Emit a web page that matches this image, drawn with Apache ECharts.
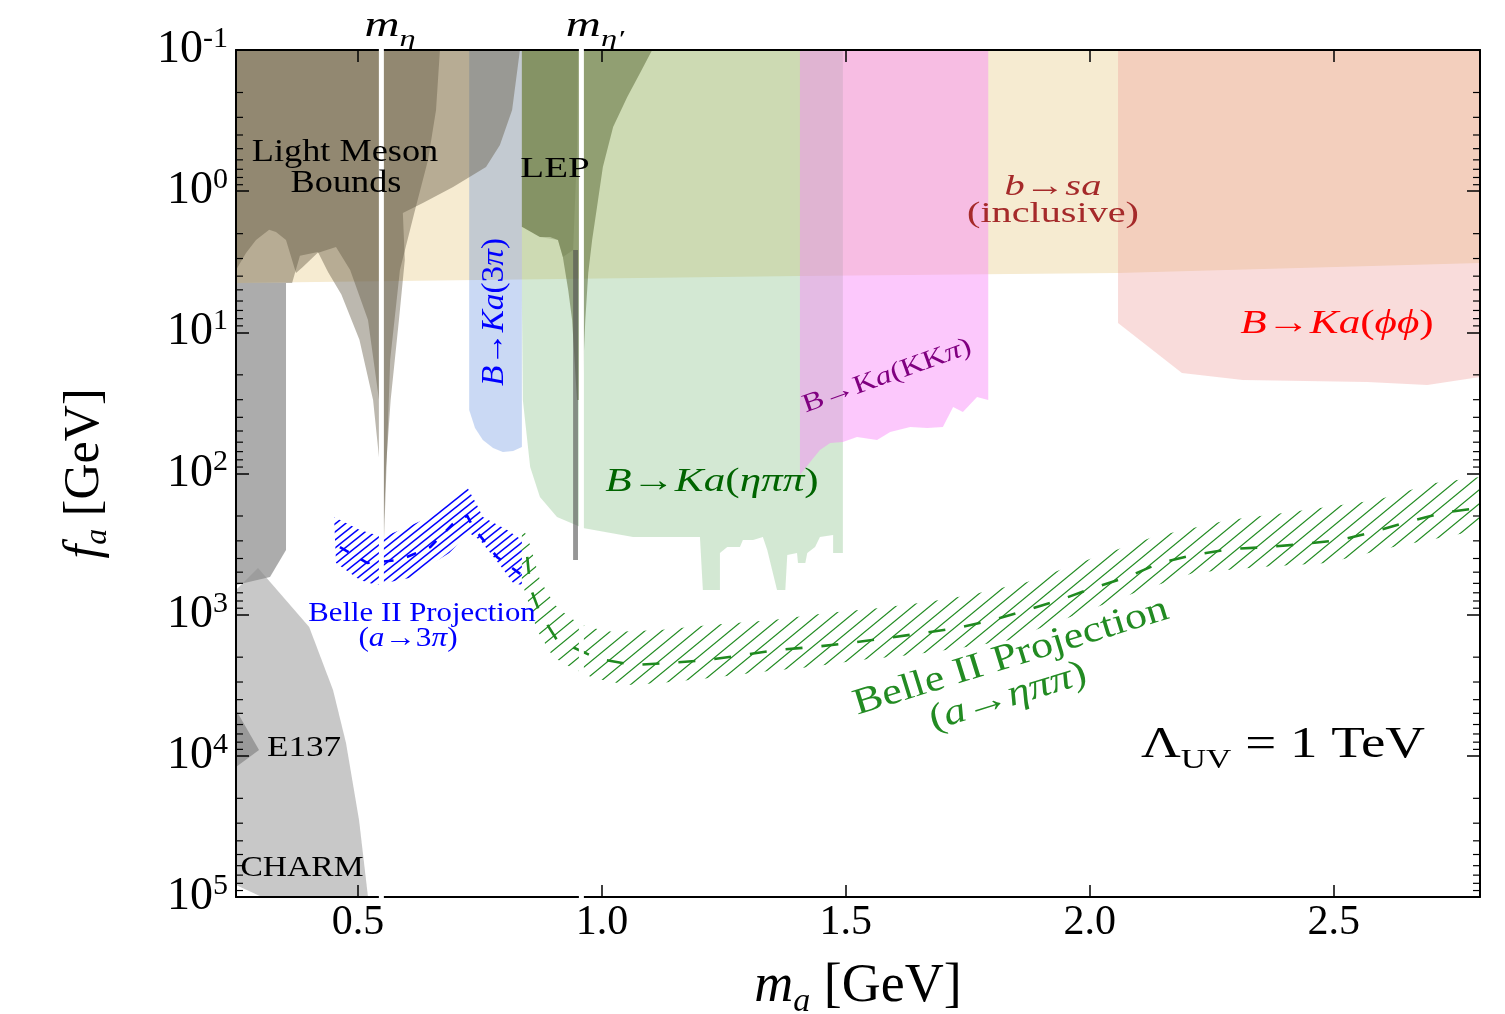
<!DOCTYPE html>
<html><head><meta charset="utf-8">
<script src="https://cdn.jsdelivr.net/npm/echarts@6/dist/echarts.min.js"></script>
<style>html,body{margin:0;padding:0;background:#fff;}#chart{width:1505px;height:1014px;}</style>
</head><body><div id="chart"></div>
<script>
// ---------------- data: m_a [GeV], f_a [GeV] ----------------
const xTickValues = [0.5, 1.0, 1.5, 2.0, 2.5];
const yMinorTicks = [0.2,0.3,0.4,0.5,0.6,0.7,0.8,0.9, 2,3,4,5,6,7,8,9, 20,30,40,50,60,70,80,90,
  200,300,400,500,600,700,800,900, 2000,3000,4000,5000,6000,7000,8000,9000,
  20000,30000,40000,50000,60000,70000,80000,90000];
const resonanceMasses = [0.548, 0.958];

const bsaInclusive = [[0.25,0.1],[2.8,0.1],[2.8,3.23],[2.058,3.8],[1.406,3.99],[0.25,4.47]];
const bKaPhiPhi = [[2.058,0.1],[2.8,0.1],[2.8,20.7],[2.692,23.6],[2.569,22.5],[2.314,21.8],[2.189,19.4],[2.058,8.59]];
const bKaKKpi = [[1.406,0.1],[1.792,0.1],[1.792,30.2],[1.769,28.7],[1.740,36.7],[1.720,33.8],[1.699,46.8],[1.667,47.6],
  [1.632,46.8],[1.591,50.8],[1.564,57.9],[1.523,55.1],[1.494,59.8],[1.468,60.8],[1.447,68.2],[1.427,82.9],[1.406,102.5]];
const bKaEtaPiPi = [[0.836,0.1],[1.494,0.1],[1.494,366],[1.474,366],[1.474,273],[1.447,282],[1.437,332],[1.421,366],
  [1.417,430],[1.402,430],[1.400,366],[1.380,378],[1.376,669],[1.359,669],[1.339,348],[1.330,282],[1.310,296],
  [1.289,296],[1.283,332],[1.257,332],[1.242,366],[1.242,669],[1.207,669],[1.201,282],[1.064,282],[0.961,243],
  [0.908,203],[0.873,147],[0.853,89.9],[0.838,30.2],[0.836,5.9]];
const bKa3pi = [[0.728,0.1],[0.836,0.1],[0.836,64.9],[0.818,69.3],[0.797,70.4],[0.777,66.0],[0.756,57.9],[0.740,47.6],[0.728,35.5]];
const lepOuter = [[0.836,0.1],[1.103,0.1],[1.078,0.146],[1.052,0.215],[1.023,0.351],[1.002,0.674],[0.990,1.294],
  [0.980,2.22],[0.972,3.8],[0.966,8.18],[0.959,30.2],[0.949,30.2],[0.939,8.18],[0.931,5.01],[0.920,2.93],
  [0.910,2.22],[0.894,2.11],[0.873,2.11],[0.847,1.88],[0.836,1.79]];
const lepInner = [[0.836,0.1],[0.951,0.1],[0.949,0.511],[0.941,2.61],[0.920,2.93],[0.910,2.22],[0.873,2.11],[0.847,1.88],[0.836,1.79]];
const lepSpike = [[0.941,2.61],[0.951,2.61],[0.951,410],[0.941,410]];
const lightMesonOuter = [[0.25,0.1],[0.832,0.1],[0.816,0.266],[0.791,0.471],[0.7625,0.674],[0.695,0.934],[0.633,1.213],
  [0.592,1.43],[0.596,3.07],[0.584,8.18],[0.567,30.2],[0.5575,89.9],[0.5514,321],[0.5452,89.9],[0.531,30.2],
  [0.503,11.3],[0.466,5.4],[0.4386,3.74],[0.418,2.7],[0.381,2.87],[0.365,4.47],[0.25,4.47]];
const lightMesonInner = [[0.25,0.1],[0.668,0.1],[0.660,0.266],[0.6436,0.601],[0.617,1.36],[0.586,3.62],[0.566,15.7],
  [0.5534,296],[0.5432,30.2],[0.5206,8.18],[0.484,3.62],[0.455,2.49],[0.417,2.74],[0.387,3.44],[0.373,3.8],
  [0.3525,2.22],[0.332,1.95],[0.318,1.88],[0.291,2.22],[0.2705,2.74],[0.25,3.62]];
const greyStrip = [[0.25,4.47],[0.3525,4.47],[0.3525,348],[0.3197,541],[0.25,616]];
const beamDump = [[0.25,669],[0.2951,467],[0.40,1223],[0.4489,3417],[0.4755,8110],[0.5022,28480],[0.5206,100000],[0.3033,100000],[0.25,82200]];
const e137Core = [[0.25,4732],[0.2972,9090],[0.25,11990]];

const belle3piUpper = [[0.451,203],[0.504,251],[0.551,282],[0.597,243],[0.646,203],[0.689,154],[0.724,125],[0.744,167],[0.756,203],[0.806,251],[0.836,296]];
const belle3piLower = [[0.455,430],[0.504,568],[0.537,616],[0.605,550],[0.648,445],[0.687,366],[0.728,264],[0.750,296],[0.791,445],[0.818,597],[0.836,616]];
const belle3piCentral = [[0.463,332],[0.519,430],[0.586,410],[0.648,332],[0.703,213],[0.724,200],[0.736,240],[0.785,390],[0.836,524]];
const belleEtaUpper = [[0.836,232],[0.853,321],[0.873,568],[0.904,854],[0.935,1056],[0.970,1223],[1.023,1327],[1.119,1284],
  [1.222,1183],[1.351,1091],[1.462,973],[1.570,897],[1.667,813],[1.755,725],[1.872,587],[1.995,410],[2.130,282],
  [2.282,214],[2.417,187],[2.589,154],[2.704,117],[2.8,106]];
const belleEtaLower = [[0.836,587],[0.867,1284],[0.900,1994],[0.935,2348],[0.982,2808],[1.052,3148],[1.119,3048],[1.222,2808],
  [1.324,2547],[1.427,2348],[1.529,2095],[1.632,1931],[1.734,1722],[1.837,1511],[1.899,1243],[1.960,1038],[2.097,691],
  [2.212,507],[2.349,459],[2.487,430],[2.622,332],[2.8,251]];
const belleEtaCentral = [[0.847,390],[0.853,637],[0.873,973],[0.908,1511],[0.990,2040],[1.064,2273],[1.140,2199],[1.216,2095],
  [1.289,1931],[1.359,1780],[1.433,1694],[1.509,1587],[1.585,1463],[1.658,1349],[1.728,1243],[1.802,1091],[1.872,926],
  [1.939,787],[2.007,647],[2.077,541],[2.144,430],[2.212,378],[2.288,343],[2.364,332],[2.437,316],[2.513,296],
  [2.581,260],[2.651,221],[2.724,190],[2.8,175]];

// ---------------- rendering ----------------
const F = "'Liberation Serif','DejaVu Serif',serif";

function hatch(color, w, h, lw) {
  const c = document.createElement('canvas'); c.width = w; c.height = h;
  const g = c.getContext('2d'); g.strokeStyle = color; g.lineWidth = lw;
  for (const dx of [-w, 0, w]) {
    g.beginPath(); g.moveTo(dx - w * 0.5, h * 1.5); g.lineTo(dx + w * 1.5, -h * 0.5); g.stroke();
  }
  return c;
}
const blueHatch = {image: hatch('#0000ff', 10, 8, 1.5), repeat: 'repeat'};
const greenHatch = {image: hatch('#1f8a1f', 17, 14, 1.2), repeat: 'repeat'};

function poly(name, pts, fill, z) {
  return {
    type: 'custom', name, coordinateSystem: 'cartesian2d', z: z || 2, silent: true, clip: true,
    data: [pts[0]],
    renderItem: (params, api) => ({
      type: 'polygon', shape: {points: pts.map(p => api.coord(p))},
      style: {fill: fill, stroke: null}
    })
  };
}
function band(name, upper, lower, fill) {
  return poly(name, upper.concat(lower.slice().reverse()), fill, 3);
}
function dashed(name, pts, color, dash) {
  return {
    type: 'custom', name, coordinateSystem: 'cartesian2d', z: 4, silent: true, clip: true,
    data: [pts[0]],
    renderItem: (params, api) => ({
      type: 'polyline', shape: {points: pts.map(p => api.coord(p))},
      style: {fill: null, stroke: color, lineWidth: 2.6, lineDash: dash}
    })
  };
}

const series = [
  poly('b→sa inclusive', bsaInclusive, '#f6ebd1'),
  poly('B→Ka(ϕϕ)', bKaPhiPhi, 'rgba(238,155,152,0.35)'),
  poly('B→Ka(ηππ)', bKaEtaPiPi, 'rgba(108,178,108,0.3)'),
  poly('B→Ka(KKπ)', bKaKKpi, 'rgba(248,133,248,0.45)'),
  poly('B→Ka(3π)', bKa3pi, 'rgba(43,103,211,0.25)'),
  poly('LEP', lepOuter, 'rgba(85,100,50,0.5)'),
  poly('LEP inner', lepInner, 'rgba(85,100,50,0.2)'),
  poly('Light meson', lightMesonOuter, 'rgba(95,85,65,0.42)'),
  poly('Light meson inner', lightMesonInner, 'rgba(95,85,65,0.42)'),
  poly('Light meson strip', greyStrip, 'rgba(90,90,90,0.5)'),
  poly('Beam dump', beamDump, 'rgba(140,140,140,0.48)'),
  poly('E137 core', e137Core, 'rgba(90,90,90,0.43)'),
  poly('eta prime spike', lepSpike, 'rgba(80,80,80,0.6)'),
  band('Belle II 3pi', belle3piUpper, belle3piLower, blueHatch),
  band('Belle II etapipi', belleEtaUpper, belleEtaLower, greenHatch),
  dashed('Belle II 3pi central', belle3piCentral, '#0000ff', [10, 14]),
  dashed('Belle II etapipi central', belleEtaCentral, '#1f8a1f', [17, 19]),
  {
    type: 'custom', name: 'minor ticks', coordinateSystem: 'cartesian2d', z: 11, silent: true,
    data: yMinorTicks.map(v => [0.25, v]),
    renderItem: (params, api) => {
      const v = api.value(1);
      const l = api.coord([0.25, v]), r = api.coord([2.8, v]);
      return {type: 'group', children: [
        {type: 'line', shape: {x1: l[0], y1: l[1], x2: l[0] + 7, y2: l[1]}, style: {stroke: '#000', lineWidth: 1.2}},
        {type: 'line', shape: {x1: r[0], y1: r[1], x2: r[0] - 7, y2: r[1]}, style: {stroke: '#000', lineWidth: 1.2}}
      ]};
    }
  },
  {
    type: 'custom', name: 'resonances', coordinateSystem: 'cartesian2d', z: 20, silent: true, clip: false,
    data: resonanceMasses.map(m => [m, 1]),
    renderItem: (params, api) => {
      const m = api.value(0);
      const a = api.coord([m, 0.1]), b = api.coord([m, 100000]);
      return {type: 'line', shape: {x1: a[0], y1: a[1] - 3, x2: b[0], y2: b[1] + 1}, style: {stroke: '#fff', lineWidth: 5}};
    }
  }
];

const axisLine = {show: true, onZero: false, lineStyle: {color: '#000', width: 2}};
const tickStyle = {color: '#000', width: 1.5};

function txt(x, y, text, size, color, sx, rot) {
  return {type: 'text', x, y, z: 100, silent: true, scaleX: sx || 1, rotation: rot || 0,
    style: {text, fontFamily: F, fontSize: size, fill: color, align: 'center', verticalAlign: 'middle'}};
}
function rich(size, color, subSize) {
  const lh = Math.round(size * 1.35);
  const ss = subSize || Math.round(size * 0.65);
  return {
    i: {fontFamily: F, fontStyle: 'italic', fontSize: size, fill: color, lineHeight: lh, verticalAlign: 'middle'},
    r: {fontFamily: F, fontSize: size, fill: color, lineHeight: lh, verticalAlign: 'middle'},
    s: {fontFamily: F, fontStyle: 'italic', fontSize: ss, fill: color, lineHeight: Math.round(size * 0.5), verticalAlign: 'bottom'},
    u: {fontFamily: F, fontSize: ss, fill: color, lineHeight: Math.round(size * 0.5), verticalAlign: 'bottom'}
  };
}
function rtxt(x, y, text, size, color, sx, rot, subSize) {
  return {type: 'text', x, y, z: 100, silent: true, rotation: rot || 0, scaleX: sx || 1,
    style: {text, rich: rich(size, color, subSize), align: 'center', verticalAlign: 'middle', fontFamily: F, fontSize: size, fill: color}};
}

const graphic = [
  txt(345, 153, 'Light Meson', 31, '#000', 1.17),
  txt(346, 184, 'Bounds', 31, '#000', 1.17),
  txt(555, 169, 'LEP', 30, '#000', 1.3),
  rtxt(1053, 187, '{i|b}{r|→}{i|sa}', 30, '#a52a2a', 1.35),
  txt(1053, 214, '(inclusive)', 30, '#a52a2a', 1.34),
  rtxt(1337, 324, '{i|B}{r|→}{i|Ka}{r|(}{i|ϕϕ}{r|)}', 34, '#ff0000', 1.27),
  rtxt(887, 376, '{r|B→K}{i|a}{r|(KK}{i|π}{r|)}', 26, '#800080', 1.24, 0.345),
  rtxt(712, 482, '{i|B}{r|→}{i|Ka}{r|(}{i|ηππ}{r|)}', 34, '#006400', 1.27),
  rtxt(495, 312, '{i|B}{r|→}{i|Ka}{r|(3}{i|π}{r|)}', 32, '#0000ff', 1.04, Math.PI / 2),
  txt(422, 614, 'Belle II Projection', 27, '#0000ff', 1.14),
  rtxt(408, 639, '{r|(}{i|a}{r|→3}{i|π}{r|)}', 27, '#0000ff', 1.16),
  txt(1011, 657, 'Belle II Projection', 37, '#228b22', 1.2, 0.3),
  rtxt(1008, 697, '{r|(}{i|a}{r|→}{i|ηππ}{r|)}', 37, '#228b22', 1.2, 0.3),
  rtxt(1283, 745, '{r|Λ}{u|UV}{r| = 1 TeV}', 44, '#000', 1.25, 0, 28),
  txt(304, 748, 'E137', 30, '#000', 1.17),
  txt(302, 868, 'CHARM', 30, '#000', 1.12),
  rtxt(390, 27, '{i|m}{s|η}', 36, '#000', 1.35, 0, 24),
  rtxt(595, 27, '{i|m}{s|η′}', 36, '#000', 1.35, 0, 24)
];

const option = {
  animation: false,
  backgroundColor: '#fff',
  grid: {left: 236, right: 25, top: 50, bottom: 117, containLabel: false, outerBoundsMode: 'none'},
  xAxis: [
    {type: 'value', min: 0.25, max: 2.8, position: 'bottom', z: 10,
     axisLine, splitLine: {show: false},
     axisTick: {show: true, inside: true, length: 12, customValues: xTickValues, lineStyle: tickStyle},
     axisLabel: {show: true, customValues: xTickValues, formatter: v => Number(v).toFixed(1),
       fontFamily: F, fontSize: 42, color: '#000', margin: 5},
     name: '{i|m}{s|a}{r| [GeV]}', nameLocation: 'middle', nameGap: 58,
     nameTextStyle: {rich: {
       i: {fontFamily: F, fontStyle: 'italic', fontSize: 54, lineHeight: 64, color: '#000', verticalAlign: 'middle'},
       s: {fontFamily: F, fontStyle: 'italic', fontSize: 34, lineHeight: 26, color: '#000', verticalAlign: 'bottom'},
       r: {fontFamily: F, fontSize: 54, lineHeight: 64, color: '#000', verticalAlign: 'middle'}}}},
    {type: 'value', min: 0.25, max: 2.8, position: 'top', z: 10,
     axisLine, splitLine: {show: false},
     axisTick: {show: true, inside: true, length: 12, customValues: xTickValues, lineStyle: tickStyle},
     axisLabel: {show: false}}
  ],
  yAxis: [
    {type: 'log', logBase: 10, min: 0.1, max: 100000, inverse: true, position: 'left', z: 10, splitNumber: 6,
     axisLine, splitLine: {show: false},
     axisTick: {show: true, inside: true, length: 13, lineStyle: tickStyle},
     axisLabel: {show: true, margin: 8,
       formatter: v => '{b|10}{s|' + Math.round(Math.log10(v)) + '}',
       rich: {
         b: {fontFamily: F, fontSize: 46, lineHeight: 52, color: '#000', verticalAlign: 'middle'},
         s: {fontFamily: F, fontSize: 30, lineHeight: 20, color: '#000', verticalAlign: 'top'}}},
     name: '{i|f}{s|a}{r| [GeV]}', nameLocation: 'middle', nameRotate: 90, nameGap: 122,
     nameTextStyle: {rich: {
       i: {fontFamily: F, fontStyle: 'italic', fontSize: 50, lineHeight: 58, color: '#000', verticalAlign: 'middle'},
       s: {fontFamily: F, fontStyle: 'italic', fontSize: 32, lineHeight: 24, color: '#000', verticalAlign: 'bottom'},
       r: {fontFamily: F, fontSize: 50, lineHeight: 58, color: '#000', verticalAlign: 'middle'}}}},
    {type: 'log', logBase: 10, min: 0.1, max: 100000, inverse: true, position: 'right', z: 10, splitNumber: 6,
     axisLine, splitLine: {show: false},
     axisTick: {show: true, inside: true, length: 13, lineStyle: tickStyle},
     axisLabel: {show: false}}
  ],
  series,
  graphic
};

const chart = echarts.init(document.getElementById('chart'), null, {renderer: 'canvas'});
chart.setOption(option);
</script></body></html>
